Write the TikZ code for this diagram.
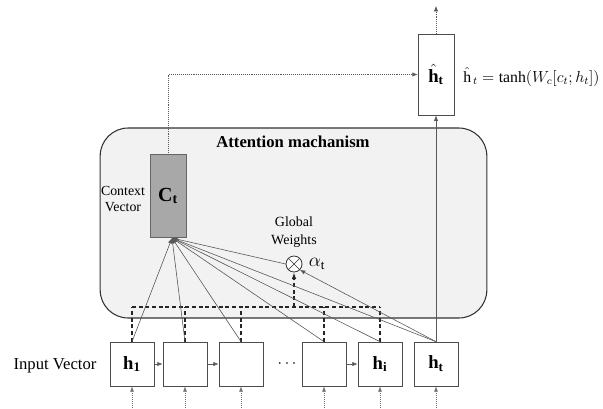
\documentclass[tikz,border=0pt]{standalone}
\usepackage{fontspec}
\setmainfont{Liberation Serif}
\usetikzlibrary{arrows.meta}
\begin{document}
\begin{tikzpicture}[x=0.75pt,y=-0.75pt,
  conn/.style={draw=black!65, line width=0.45pt},
  tip/.style={-{Latex[length=4pt,width=3.2pt]}},
  cell/.style={draw=black!70, line width=0.5pt, minimum width=33pt, minimum height=33pt, inner sep=0pt, fill=white, font=\fontsize{14}{16}\selectfont},
  bus/.style={draw=black!85, line width=0.8pt, dash pattern=on 3pt off 2pt},
  inarrow/.style={draw=black!55, line width=0.5pt, densely dotted, -{Latex[length=4pt,width=3pt]}},
  lbl/.style={inner sep=0pt, align=center}
]
\useasboundingbox (0,0) rectangle (603,408);
% attention box
\node[draw=black!80, line width=0.8pt, fill=black!5, rounded corners=21pt, minimum width=290pt, minimum height=142.5pt] (att) at (293.5,223) {};
\node[lbl, font=\bfseries\fontsize{12.5}{14}\selectfont] (title) at (293,142) {Attention machanism};
% context vector
\node[draw=black!60, fill=black!34, minimum width=27pt, minimum height=62pt, inner sep=0pt, font=\fontsize{15}{17}\selectfont] (ct) at (168,196) {\textbf{C}$_{\mathbf{t}}$};
\node[lbl, font=\fontsize{10.4}{12}\selectfont] (cvl) at (123,199) {Context\\Vector};
% output
\node[cell, minimum width=27pt, minimum height=61pt] (hh) at (436,74.5) {$\hat{\mathbf{h}}_{\mathbf{t}}$};
\node[lbl, anchor=west, font=\fontsize{11.8}{14}\selectfont] (eq) at (463,77) {$\hat{\mathrm{h}}_{\,t} = \tanh(W_c[c_t;h_t])$};
\coordinate (out) at (436,6);
% input cells
\node[cell] (h1) at (132,364) {\textbf{h}$_{\mathbf{1}}$};
\node[cell] (c2) at (185,364) {};
\node[cell] (c3) at (241,364) {};
\node[lbl, font=\fontsize{12}{14}\selectfont] (dots) at (287,364) {$\cdots$};
\node[cell] (c4) at (324,364) {};
\node[cell] (hi) at (380,364) {\textbf{h}$_{\mathbf{i}}$};
\node[cell] (ht) at (436,364) {\textbf{h}$_{\mathbf{t}}$};
\node[lbl, font=\fontsize{12.5}{14}\selectfont] (inl) at (55,366) {Input Vector};
\coordinate (bot) at (0,408);
% global weights
\node[draw=black!80, line width=0.6pt, circle, minimum size=12pt, inner sep=0pt, fill=white] (ot) at (294,264) {};
\draw[black!80, line width=0.5pt] (ot.north west) -- (ot.south east) (ot.north east) -- (ot.south west);
\node[lbl, font=\fontsize{10.5}{13.5}\selectfont] (gw) at (294,232) {Global\\Weights};
\node[lbl, font=\fontsize{14}{16}\selectfont] (al) at (317,264) {$\alpha_{\mathrm{t}}$};
% dashed bus
\coordinate (busL) at (132,307);
\coordinate (busR) at (380,307);
\draw[bus] (busL) -- (busR);
\foreach \c in {h1,c2,c3,c4,hi} { \draw[bus] (\c.north) -- (\c.north |- busL); }
\draw[bus, -{Latex[length=5pt,width=3.5pt]}] (ot.south |- busL) -- (ot.south);
% fan into context vector
\coordinate (conv) at (172,238);
\foreach \c in {h1,c2,c3,c4,hi,ht} { \draw[conn, tip] (\c.north) -- (conv); }
\draw[conn, tip] (ot.west) -- (conv);
\draw[conn, tip] (ht.north) -- (ot.south east);
% to output
\draw[conn, tip] (ht.north) -- (hh.south);
\draw[conn, densely dotted, tip] (ct.north) |- (hh.west);
\draw[conn, densely dotted, tip] (hh.north) -- (out);
% recurrent arrows
\draw[conn, tip] (h1.east) -- (c2.west);
\draw[conn, tip] (c2.east) -- (c3.west);
\draw[conn, tip] (c4.east) -- (hi.west);
% inputs
\foreach \c in {h1,c2,c3,c4,hi,ht} { \draw[inarrow] (\c.south |- bot) -- (\c.south); }
\end{tikzpicture}
\end{document}
